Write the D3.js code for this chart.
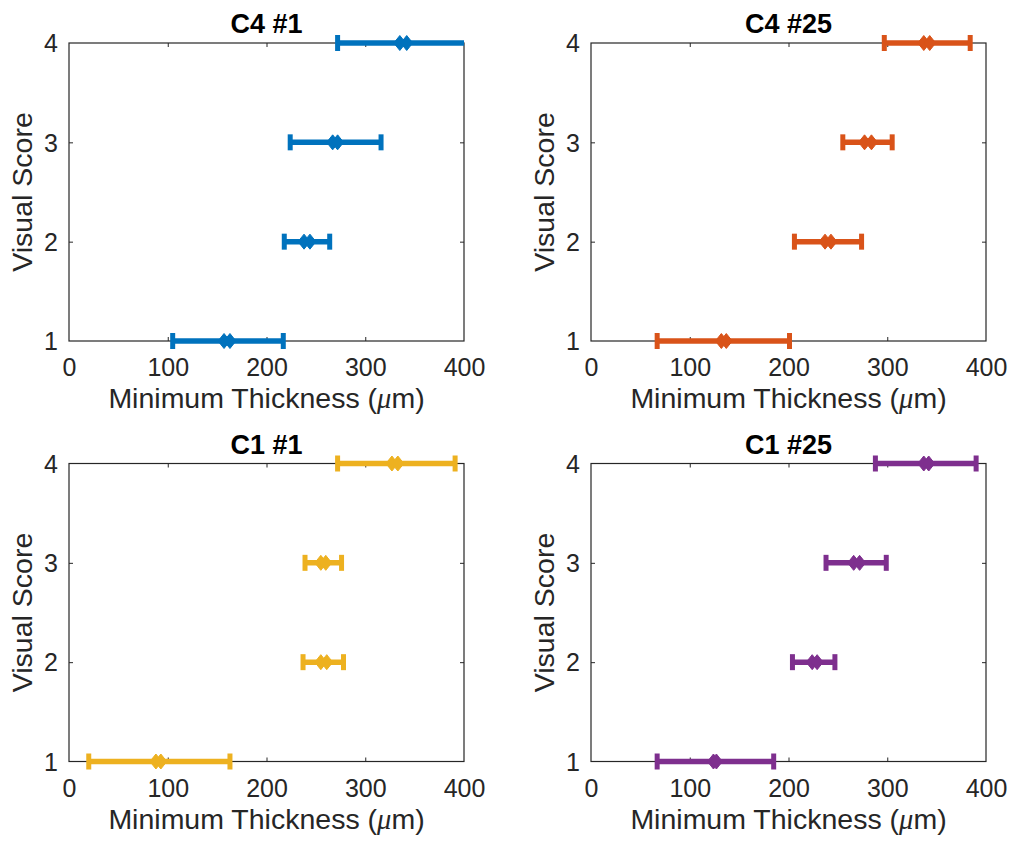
<!DOCTYPE html>
<html>
<head>
<meta charset="utf-8">
<script src="https://cdn.jsdelivr.net/npm/d3@7"></script>
<style>
  html, body { margin: 0; padding: 0; background: #fff; }
  svg { display: block; font-family: "Liberation Sans", Arial, Helvetica, sans-serif; }
</style>
</head>
<body>
<svg id="chart" width="1011" height="842"></svg>
<script>
// ---- data ----
const panelTitles = ["C4 #1", "C4 #25", "C1 #1", "C1 #25"];
const panelColors = ["#0072BD", "#D95319", "#EDB120", "#7E2F8E"];
const visualScores = [1, 2, 3, 4];
const xTicks = [0, 100, 200, 300, 400];
const yTicks = [1, 2, 3, 4];

// per panel, per visual score (1..4): lower end, upper end, two central markers
const lowerC4_1  = [105, 218, 224, 272];
const upperC4_1  = [217, 264, 316, 412];
const markAC4_1  = [157, 238, 267, 335];
const markBC4_1  = [163, 244, 272, 342];

const lowerC4_25 = [67, 206, 255, 297];
const upperC4_25 = [201, 274, 305, 384];
const markAC4_25 = [132, 237, 277, 337];
const markBC4_25 = [137, 243, 284, 343];

const lowerC1_1  = [20, 237, 239, 272];
const upperC1_1  = [163, 278, 276, 391];
const markAC1_1  = [88, 255, 255, 327];
const markBC1_1  = [93, 261, 260, 333];

const lowerC1_25 = [67, 204, 238, 288];
const upperC1_25 = [185, 247, 299, 390];
const markAC1_25 = [124, 224, 266, 337];
const markBC1_25 = [127, 229, 272, 342];

const lowers = [lowerC4_1, lowerC4_25, lowerC1_1, lowerC1_25];
const uppers = [upperC4_1, upperC4_25, upperC1_1, upperC1_25];
const markAs = [markAC4_1, markAC4_25, markAC1_1, markAC1_25];
const markBs = [markBC4_1, markBC4_25, markBC1_1, markBC1_25];

const xLabel = "Minimum Thickness (";
const yLabel = "Visual Score";

// ---- layout ----
const W = 395, H = 298;
const origins = [[69, 43], [591, 43], [69, 463.5], [591, 463.5]];
const axisColor = "#262626";
const tickFont = 25, labelFont = 28.5, titleFont = 27;

const svg = d3.select("#chart");

panelTitles.forEach((title, p) => {
  const [ox, oy] = origins[p];
  const g = svg.append("g").attr("transform", `translate(${ox},${oy})`);
  const x = d3.scaleLinear().domain([0, 400]).range([0, W]);
  const y = d3.scaleLinear().domain([1, 4]).range([H, 0]);

  // bottom axis
  const bx = g.append("g").attr("transform", `translate(0,${H})`)
    .call(d3.axisBottom(x).tickValues(xTicks).tickFormat(d3.format("d")).tickSizeInner(-4).tickSizeOuter(0).tickPadding(0));
  bx.select(".domain").remove();
  bx.selectAll("line").attr("stroke", axisColor);
  bx.selectAll("text").attr("y", 35).attr("dy", null)
    .attr("fill", axisColor).style("font-size", tickFont + "px");
  bx.selectAll(".tick").filter(d => d === 0 || d === 400).select("line").remove();

  // top axis (ticks only)
  const tx = g.append("g")
    .call(d3.axisTop(x).tickValues(xTicks).tickSizeInner(-4).tickSizeOuter(0).tickFormat(""));
  tx.select(".domain").remove();
  tx.selectAll("line").attr("stroke", axisColor);
  tx.selectAll(".tick").filter(d => d === 0 || d === 400).select("line").remove();

  // left axis
  const ly = g.append("g")
    .call(d3.axisLeft(y).tickValues(yTicks).tickFormat(d3.format("d")).tickSizeInner(-4).tickSizeOuter(0).tickPadding(0));
  ly.select(".domain").remove();
  ly.selectAll("line").attr("stroke", axisColor);
  ly.selectAll("text").attr("x", -11).attr("dy", "0.35em")
    .attr("fill", axisColor).style("font-size", tickFont + "px");
  ly.selectAll(".tick").filter(d => d === 1 || d === 4).select("line").remove();

  // right axis (ticks only)
  const ry = g.append("g").attr("transform", `translate(${W},0)`)
    .call(d3.axisRight(y).tickValues(yTicks).tickSizeInner(-4).tickSizeOuter(0).tickFormat(""));
  ry.select(".domain").remove();
  ry.selectAll("line").attr("stroke", axisColor);
  ry.selectAll(".tick").filter(d => d === 1 || d === 4).select("line").remove();

  // box
  g.append("rect").attr("x", 0).attr("y", 0).attr("width", W).attr("height", H)
    .attr("fill", "none").attr("stroke", axisColor).attr("stroke-width", 1.2);

  // title
  g.append("text").attr("x", W / 2).attr("y", -10).attr("text-anchor", "middle")
    .attr("font-weight", "bold").style("font-size", titleFont + "px").attr("fill", "#000")
    .text(title);

  // x label
  const xl = g.append("text").attr("x", W / 2).attr("y", H + 67).attr("text-anchor", "middle")
    .style("font-size", labelFont + "px").attr("fill", axisColor);
  xl.append("tspan").text(xLabel);
  xl.append("tspan").attr("font-style", "italic").attr("font-family", "'Liberation Serif', 'Times New Roman', serif").text("\u03BC");
  xl.append("tspan").text("m)");

  // y label
  g.append("text").attr("transform", `translate(-37,${H / 2}) rotate(-90)`)
    .attr("text-anchor", "middle").style("font-size", labelFont + "px").attr("fill", axisColor)
    .text(yLabel);

  // clip
  const clipId = "clip" + p;
  g.append("clipPath").attr("id", clipId).append("rect")
    .attr("x", 0).attr("y", -30).attr("width", W).attr("height", H + 60);

  const color = panelColors[p];
  const marks = g.append("g").attr("clip-path", `url(#${clipId})`);
  const rows = visualScores.map((s, i) => ({
    s, lo: lowers[p][i], hi: uppers[p][i], a: markAs[p][i], b: markBs[p][i]
  }));

  marks.selectAll(".bar").data(rows).join("line")
    .attr("x1", d => x(d.lo)).attr("x2", d => x(d.hi))
    .attr("y1", d => y(d.s)).attr("y2", d => y(d.s))
    .attr("stroke", color).attr("stroke-width", 5.5);

  const caps = rows.flatMap(d => [{ s: d.s, v: d.lo }, { s: d.s, v: d.hi }]);
  marks.selectAll(".cap").data(caps).join("line")
    .attr("x1", d => x(d.v)).attr("x2", d => x(d.v))
    .attr("y1", d => y(d.s) - 8).attr("y2", d => y(d.s) + 8)
    .attr("stroke", color).attr("stroke-width", 5);

  const pts = rows.flatMap(d => [{ s: d.s, v: d.a }, { s: d.s, v: d.b }]);
  const hw = 6, hh = 7.5;
  marks.selectAll(".pt").data(pts).join("path")
    .attr("d", d => {
      const cx = x(d.v), cy = y(d.s);
      return `M${cx},${cy - hh}L${cx + hw},${cy}L${cx},${cy + hh}L${cx - hw},${cy}Z`;
    })
    .attr("fill", color).attr("stroke", color).attr("stroke-width", 1);
});
</script>
</body>
</html>
